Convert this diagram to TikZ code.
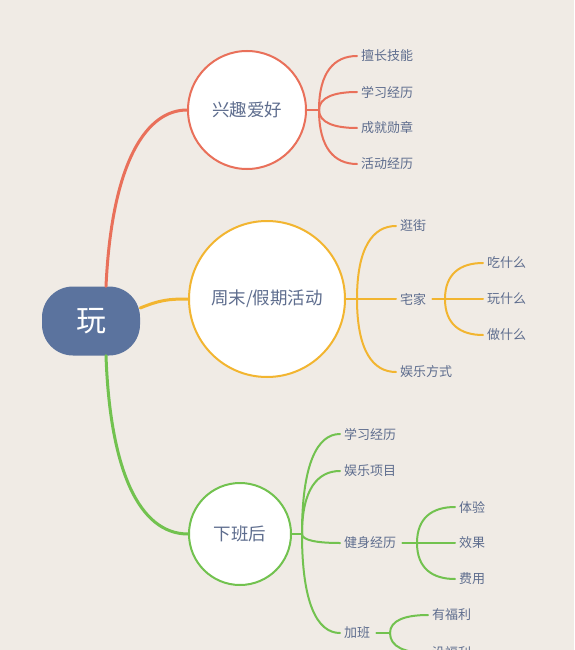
\documentclass[tikz,border=0pt]{standalone}
\usepackage{fontspec}
\newfontfamily\cjk{Noto Sans CJK SC}
\usetikzlibrary{calc}

\definecolor{bgcol}{HTML}{F0EBE5}
\definecolor{rootcol}{HTML}{5B739E}
\definecolor{txtcol}{HTML}{5E6D8E}
\definecolor{redcol}{HTML}{E9705A}
\definecolor{yelcol}{HTML}{F2B530}
\definecolor{grncol}{HTML}{72C24F}

\begin{document}
\begin{tikzpicture}[x=1pt, y=-1pt, line cap=round, line join=round,
	topic/.style={circle, draw, line width=2pt, fill=white, text=txtcol, inner sep=0pt,
		font=\cjk\fontsize{17.5}{20}\selectfont},
	leaf/.style={anchor=west, inner xsep=4pt, inner ysep=0pt, text=txtcol,
		font=\cjk\fontsize{13}{15}\selectfont},
	trunk/.style={line width=3pt},
	twig/.style={line width=2pt},
	branch/.style={to path={.. controls ($(\tikztostart)!0.7!(\tikztostart |- \tikztotarget)$)
		and ($(\tikztotarget)!0.6!(\tikztostart |- \tikztotarget)$) .. (\tikztotarget)}}]
	
	\useasboundingbox (0,0) rectangle (574,650);
	\clip (0,0) rectangle (574,650);
	\fill[bgcol] (0,0) rectangle (574,650);
	
	% root
	\node[fill=rootcol, rounded corners=31pt, minimum width=98pt, minimum height=69pt,
		text=white, font=\cjk\fontsize{30}{34}\selectfont] (root) at (91,321) {玩};
	\coordinate (r1) at ([xshift=15pt]root.north);
	\coordinate (y1) at ([yshift=13pt]root.east);
	\coordinate (g1) at ([xshift=15pt]root.south);
	
	% main topics
	\node[topic, draw=redcol, minimum size=118pt] (hobby) at (247,110) {兴趣爱好};
	\node[topic, draw=yelcol, minimum size=156pt] (weekend) at (267,299) {周末/假期活动};
	\node[topic, draw=grncol, minimum size=102pt] (offwork) at (240,534) {下班后};
	
	\draw[trunk, redcol] (r1) .. controls +(6,-128) and +(-39,0) .. (hobby.west);
	\draw[trunk, yelcol] (y1) .. controls +(20,-8) and +(-20,0) .. (weekend.west);
	\draw[trunk, grncol] (g1) .. controls +(4,114) and +(-49,0) .. (offwork.west);
	
	% 兴趣爱好
	\coordinate (hs) at (319,110);
	\node[leaf] (h1) at (357,56) {擅长技能};
	\node[leaf] (h2) at (357,92) {学习经历};
	\node[leaf] (h3) at (357,128) {成就勋章};
	\node[leaf] (h4) at (357,164) {活动经历};
	\begin{scope}[twig, redcol]
		\draw (hobby.east) -- (hs);
		\draw (hs) to[branch] (h1.west);
		\draw (hs) to[branch] (h2.west);
		\draw (hs) to[branch] (h3.west);
		\draw (hs) to[branch] (h4.west);
	\end{scope}
	
	% 周末/假期活动
	\coordinate (ws) at (357,299);
	\node[leaf] (w1) at (396,226) {逛街};
	\node[leaf] (w2) at (396,299) {宅家};
	\node[leaf] (w3) at (396,372) {娱乐方式};
	\coordinate (zs) at (445,299);
	\node[leaf] (z1) at (483,263) {吃什么};
	\node[leaf] (z2) at (483,299) {玩什么};
	\node[leaf] (z3) at (483,335) {做什么};
	\begin{scope}[twig, yelcol]
		\draw (weekend.east) -- (ws);
		\draw (ws) to[branch] (w1.west);
		\draw (ws) -- (w2.west);
		\draw (ws) to[branch] (w3.west);
		\draw ([xshift=2pt]w2.east) -- (zs);
		\draw (zs) to[branch] (z1.west);
		\draw (zs) -- (z2.west);
		\draw (zs) to[branch] (z3.west);
	\end{scope}
	
	% 下班后
	\coordinate (os) at (302,534);
	\node[leaf] (o1) at (340,434) {学习经历};
	\node[leaf] (o2) at (340,471) {娱乐项目};
	\node[leaf] (o3) at (340,543) {健身经历};
	\node[leaf] (o4) at (340,633) {加班};
	\coordinate (js) at (417,543);
	\node[leaf] (j1) at (455,507) {体验};
	\node[leaf] (j2) at (455,543) {效果};
	\node[leaf] (j3) at (455,579) {费用};
	\coordinate (bs) at (390,633);
	\node[leaf] (b1) at (428,615) {有福利};
	\node[leaf] (b2) at (428,653) {没福利};
	\begin{scope}[twig, grncol]
		\draw (offwork.east) -- (os);
		\draw (os) to[branch] (o1.west);
		\draw (os) to[branch] (o2.west);
		\draw (os) to[branch] (o3.west);
		\draw (os) to[branch] (o4.west);
		\draw ([xshift=2pt]o3.east) -- (js);
		\draw (js) to[branch] (j1.west);
		\draw (js) -- (j2.west);
		\draw (js) to[branch] (j3.west);
		\draw ([xshift=2pt]o4.east) -- (bs);
		\draw (bs) to[branch] (b1.west);
		\draw (bs) to[branch] (b2.west);
	\end{scope}
	
\end{tikzpicture}
\end{document}
